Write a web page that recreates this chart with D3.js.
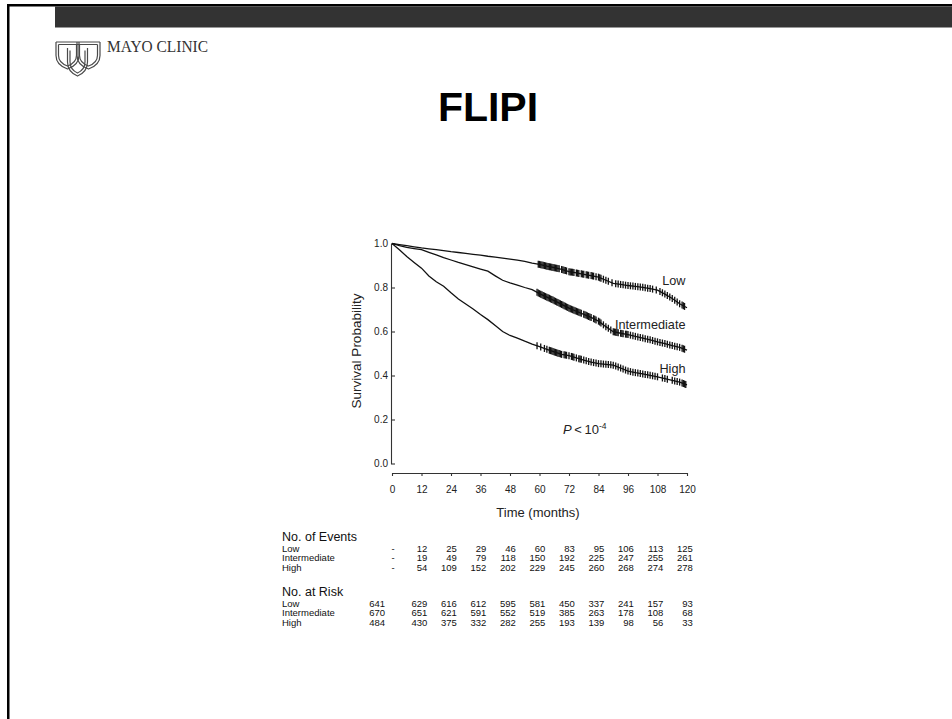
<!DOCTYPE html>
<html lang="en">
<head>
<meta charset="UTF-8">
<title>FLIPI</title>
<script src="https://d3js.org/d3.v7.min.js"></script>
<style>
  body { margin: 0; background: #fff; }
  svg { display: block; font-family: "Liberation Sans", Arial, sans-serif; }
  .axis text { font-size: 10px; fill: #222; }
  .axis path, .axis line { stroke: #333; stroke-width: 1.1px; }
  .tbl { font-size: 9.5px; fill: #111; }
</style>
</head>
<body>
<svg id="slide" width="952" height="719"></svg>
<script>

// ---- data ----
var months = [0,3,6,9,12,15,18,21,24,27,30,33,36,39,42,45,48,51,54,57,60,
              63,66,69,72,75,78,81,84,87,90,93,96,99,102,105,108,111,114,117,120];

var lowSurv = [1.000,0.995,0.990,0.985,0.980,0.976,0.972,0.968,0.963,0.959,0.955,
               0.951,0.947,0.942,0.938,0.934,0.929,0.924,0.919,0.911,0.905,
               0.897,0.890,0.882,0.872,0.866,0.860,0.854,0.847,0.833,0.819,
               0.814,0.809,0.805,0.801,0.795,0.788,0.770,0.750,0.726,0.708];

var intSurv = [1.000,0.990,0.982,0.977,0.972,0.960,0.948,0.936,0.925,0.914,0.904,
               0.894,0.884,0.874,0.853,0.833,0.821,0.811,0.800,0.790,0.772,
               0.756,0.740,0.723,0.706,0.692,0.678,0.664,0.647,0.622,0.599,
               0.592,0.586,0.578,0.570,0.562,0.553,0.545,0.536,0.528,0.515];

var highSurv = [1.000,0.972,0.941,0.914,0.888,0.852,0.826,0.806,0.776,0.748,0.725,
                0.702,0.677,0.654,0.627,0.600,0.582,0.570,0.556,0.543,0.531,
                0.519,0.507,0.496,0.490,0.480,0.470,0.461,0.454,0.451,0.447,
                0.434,0.420,0.413,0.407,0.401,0.394,0.386,0.378,0.370,0.357];

// censoring times (months)
var lowCensor = [59.5,60,60.5,61,61.5,62,62.5,63,63.5,64,64.5,65,65.5,66,66.5,67,67.5,68,69,69.5,
                 70,70.5,71,72,72.5,73,73.5,74,75,75.5,76,77,77.5,78,79,79.5,80,81,81.5,82,83,84,
                 84.5,85,86,87,88,89.5,91,92,93,94,95,96,97,98,99,100,101,102,103,104,105,106,
                 107.5,109,110,111,112,113,114,115,116,117,118,118.5,119];
var intCensor = [59,59.5,60,60.5,61,61.5,62,62.5,63,63.5,64,64.5,65,65.5,66,66.5,67,67.5,68,68.5,
                 69,69.5,70,70.5,71,71.5,72,72.5,73,73.5,74,74.5,75,75.5,76,76.5,77,78,78.5,79,
                 79.5,80,80.5,81,82,82.5,83,84,84.5,85,86,87,88,89,90,90.5,91,91.5,92,93,93.5,94,
                 95,95.5,96,97,98,99,100,101,102,103,104,105,106,107,108,109,110,111,112,113,114,
                 115,116,117,118,118.5,119];
var highCensor = [59,60.5,62,63,64,64.5,65,65.5,66,66.5,67,67.5,68,68.5,69,70,70.5,71,72,73,73.5,
                  74,75,76,76.5,77,78,79,80,81,82,83,84,85,86,87,88,89,90,91,92,93,94,95,96,97,
                  98,99,100,101,102,103,104,105,106,107,108,110,111,112,114,115,116,117,118,
                  118.5,119,119.5];

var groups = ["Low", "Intermediate", "High"];
var tableMonths = [0,12,24,36,48,60,72,84,96,108,120];

var eventsLow  = ["-",12,25,29,46,60,83,95,106,113,125];
var eventsInt  = ["-",19,49,79,118,150,192,225,247,255,261];
var eventsHigh = ["-",54,109,152,202,229,245,260,268,274,278];

var riskLow  = [641,629,616,612,595,581,450,337,241,157,93];
var riskInt  = [670,651,621,591,552,519,385,263,178,108,68];
var riskHigh = [484,430,375,332,282,255,193,139,98,56,33];

var yTicks = [0,0.2,0.4,0.6,0.8,1.0];

// ---- slide frame ----
var svg = d3.select("#slide");

svg.append("rect").attr("width", 952).attr("height", 719).attr("fill", "#fff");
svg.append("rect").attr("x", 7).attr("y", 4).attr("width", 945).attr("height", 2.5).attr("fill", "#000");
svg.append("rect").attr("x", 7).attr("y", 4).attr("width", 2.5).attr("height", 715).attr("fill", "#000");
svg.append("rect").attr("x", 55).attr("y", 6.5).attr("width", 897).attr("height", 21).attr("fill", "#333");

// logo: three interlocking shields
function shieldPath(cx, top, w, h) {
  var l = cx - w / 2, r = cx + w / 2;
  return "M" + l + "," + top + "L" + l + "," + (top + h * 0.5) +
    "Q" + l + "," + (top + h * 0.85) + " " + cx + "," + (top + h) +
    "Q" + r + "," + (top + h * 0.85) + " " + r + "," + (top + h * 0.5) +
    "L" + r + "," + top;
}
var logo = svg.append("g").attr("fill", "none").attr("stroke", "#4a4a4a").attr("stroke-width", 1.2);
[[77.5, 48, 20, 28], [67.5, 42, 23, 27], [88.5, 42, 23, 27]].forEach(function(s) {
  logo.append("path").attr("d", shieldPath(s[0], s[1], s[2], s[3]));
  logo.append("path").attr("d", shieldPath(s[0], s[1] + 2.5, s[2] - 5, s[3] - 5.5));
});
logo.append("line").attr("x1", 56).attr("x2", 100).attr("y1", 42).attr("y2", 42);
logo.append("line").attr("x1", 58.5).attr("x2", 97.5).attr("y1", 44.5).attr("y2", 44.5);

svg.append("text")
  .attr("x", 107).attr("y", 51.5)
  .attr("font-family", "Liberation Serif, Times New Roman, serif")
  .attr("font-size", 16.5)
  .attr("textLength", 101).attr("lengthAdjust", "spacingAndGlyphs")
  .attr("fill", "#333")
  .text("MAYO CLINIC");

svg.append("text")
  .attr("x", 488).attr("y", 121)
  .attr("text-anchor", "middle")
  .attr("font-size", 41).attr("font-weight", "bold")
  .attr("fill", "#000")
  .text("FLIPI");

// ---- chart ----
var x = d3.scaleLinear().domain([0, 120]).range([392, 687]);
var y = d3.scaleLinear().domain([0, 1]).range([463.5, 243.5]);

svg.append("g")
  .attr("class", "axis")
  .attr("transform", "translate(391,0)")
  .call(d3.axisLeft(y).tickValues(yTicks).tickFormat(d3.format(".1f"))
    .tickSizeInner(-4).tickSizeOuter(0).tickPadding(3));

svg.append("g")
  .attr("class", "axis")
  .attr("transform", "translate(0,473)")
  .call(d3.axisBottom(x).tickValues(tableMonths).tickSizeInner(3).tickSizeOuter(0).tickPadding(10));

svg.append("text")
  .attr("transform", "translate(360.5,351) rotate(-90)")
  .attr("text-anchor", "middle").attr("font-size", 13.5).attr("fill", "#222")
  .text("Survival Probability");

svg.append("text")
  .attr("x", 538).attr("y", 517)
  .attr("text-anchor", "middle").attr("font-size", 13).attr("fill", "#222")
  .text("Time (months)");

var series = [
  { name: "Low", surv: lowSurv, censor: lowCensor, labelY: 285 },
  { name: "Intermediate", surv: intSurv, censor: intCensor, labelY: 329 },
  { name: "High", surv: highSurv, censor: highCensor, labelY: 372.5 }
];

var line = d3.line()
  .x(function(d) { return x(d[0]); })
  .y(function(d) { return y(d[1]); });

var bis = d3.bisector(function(d) { return d; }).right;

function survAt(s, t) {
  var i = Math.min(bis(months, t), months.length - 1);
  var t0 = months[i - 1], t1 = months[i];
  var f = (t - t0) / (t1 - t0);
  return s.surv[i - 1] + f * (s.surv[i] - s.surv[i - 1]);
}

series.forEach(function(s) {
  var pts = months.map(function(m, i) { return [m, s.surv[i]]; });
  svg.append("path")
    .datum(pts)
    .attr("d", line)
    .attr("fill", "none")
    .attr("stroke", "#111")
    .attr("stroke-width", 1.3);

  svg.append("g")
    .selectAll("line")
    .data(s.censor)
    .enter()
    .append("line")
    .attr("x1", function(t) { return x(t); })
    .attr("x2", function(t) { return x(t); })
    .attr("y1", function(t) { return y(survAt(s, t)) - 3.5; })
    .attr("y2", function(t) { return y(survAt(s, t)) + 3.5; })
    .attr("stroke", "#111")
    .attr("stroke-width", 1.3);

  svg.append("text")
    .attr("x", 685.5).attr("y", s.labelY)
    .attr("text-anchor", "end").attr("font-size", 12.7).attr("fill", "#222")
    .text(s.name);
});

var pText = svg.append("text")
  .attr("x", 563).attr("y", 433.5)
  .attr("font-size", 13).attr("fill", "#222");
pText.append("tspan").attr("font-style", "italic").text("P");
pText.append("tspan").text("\u2009<\u200910");
pText.append("tspan").attr("font-size", 8.5).attr("dy", -5).text("-4");

// ---- tables ----
function drawTable(title, titleY, firstRowY, rows, firstColMode) {
  svg.append("text")
    .attr("x", 282).attr("y", titleY)
    .attr("font-size", 12.5).attr("fill", "#111")
    .text(title);

  rows.forEach(function(r, ri) {
    var rowY = firstRowY + ri * 9.4;
    svg.append("text").attr("class", "tbl")
      .attr("x", 282).attr("y", rowY)
      .text(groups[ri]);

    svg.append("g").selectAll("text")
      .data(r)
      .enter()
      .append("text")
      .attr("class", "tbl")
      .attr("y", rowY)
      .attr("x", function(d, i) {
        if (i === 0) return firstColMode === "dash" ? x(0) + 1 : 385;
        return x(tableMonths[i]) + 5.8;
      })
      .attr("text-anchor", function(d, i) {
        return (i === 0 && firstColMode === "dash") ? "middle" : "end";
      })
      .text(function(d) { return d; });
  });
}

drawTable("No. of Events", 540.5, 552, [eventsLow, eventsInt, eventsHigh], "dash");
drawTable("No. at Risk", 595.5, 607, [riskLow, riskInt, riskHigh], "num");

</script>
</body>
</html>
